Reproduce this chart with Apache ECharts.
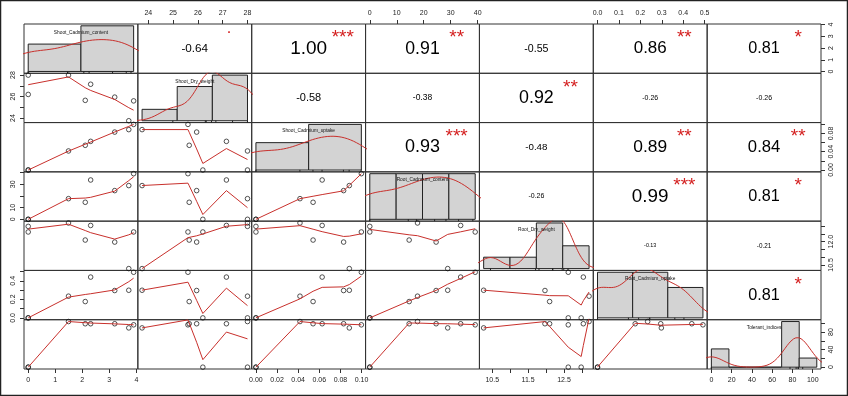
<!DOCTYPE html>
<html><head><meta charset="utf-8">
<script src="https://cdn.jsdelivr.net/npm/echarts@6/dist/echarts.min.js"></script>
<style>html,body{margin:0;padding:0;background:#fff}#c{width:848px;height:396px}</style>
</head><body><div id="c"></div>
<script>
// ---------------- data ----------------
const varNames = ['Shoot_Cadmium_content','Shoot_Dry_weight','Shoot_Cadmium_uptake','Root_Cadmium_content','Root_Dry_weight','Root_Cadmium_uptake','Tolerant_indices'];
const shootCdContent = [0, 0, 1.49, 2.11, 2.31, 3.20, 3.72, 3.90];
const shootDryWeight = [28.0, 26.2, 28.0, 25.65, 27.15, 25.95, 23.75, 25.6];
const shootCdUptake  = [0, 0, 0.0417, 0.0541, 0.0627, 0.0830, 0.0884, 0.0998];
const rootCdContent  = [0, 0, 17.7, 14.6, 33.7, 24.6, 28.9, 39.1];
const rootDryWeight  = [12.98, 12.62, 13.2, 12.1, 13.04, 11.97, 10.26, 12.62];
const rootCdUptake   = [0, 0, 0.234, 0.176, 0.44, 0.295, 0.298, 0.492];
const toleranceIdx   = [0, 0, 104, 99, 99, 99, 89.5, 96.5];

const histBreaks = [[0,2,4],[22,24,26,28],[0,0.05,0.1],[0,10,20,30,40],[10,11,12,13,14],[0,0.2,0.4,0.6],[0,20,40,60,80,100,120]];
const tickValues = [[0,1,2,3,4],[24,25,26,27,28],[0,0.02,0.04,0.06,0.08,0.1],[0,10,20,30,40],[10.5,11,11.5,12,12.5,13],[0,0.1,0.2,0.3,0.4,0.5],[0,20,40,60,80,100]];
const labelsHoriz = [[0,1,2,3,4],[24,25,26,27,28],[0,0.02,0.04,0.06,0.08,0.1],[0,10,20,30,40],[10.5,11.5,12.5],[0,0.1,0.2,0.3,0.4,0.5],[0,20,40,60,80,100]];
const labelsVert  = [[0,1,2,3,4],[24,26,28],[0,0.04,0.08],[0,10,30],[10.5,12],[0,0.2,0.4],[0,40,80]];
const labelDecimals = [0,0,2,0,1,1,0];
// upper triangle, row by row
const corrValues = [-0.64,1.00,0.91,-0.55,0.86,0.81, -0.58,-0.38,0.92,-0.26,-0.26, 0.93,-0.48,0.89,0.84, -0.26,0.99,0.81, -0.13,-0.21, 0.81];
const corrSignif = ['.','***','**','','**','*', '','','**','','', '***','','**','**', '','***','*', '','', '*'];

// ---------------- helpers ----------------
const vars = [shootCdContent, shootDryWeight, shootCdUptake, rootCdContent, rootDryWeight, rootCdUptake, toleranceIdx];
const N = vars.length;
const FONT = '"Liberation Sans", Arial, Helvetica, sans-serif';
const RED_LINE = '#c8302c', RED_STAR = '#d42020';
const L = 24, T = 24, R = 821, B = 369;
const PW = (R - L) / N, PH = (B - T) / N;
const usrRange = v => { const mn = Math.min(...v), mx = Math.max(...v), d = (mx - mn) * 0.04; return [mn - d, mx + d]; };

function lowess(xIn, yIn, f = 2/3, nsteps = 3) {
  const n = xIn.length;
  const idx = xIn.map((v, i) => i).sort((a, b) => (xIn[a] - xIn[b]) || (a - b));
  const x = [0].concat(idx.map(i => xIn[i]));
  const y = [0].concat(idx.map(i => yIn[i]));
  const ys = new Array(n + 1).fill(0), rw = new Array(n + 1).fill(1), res = new Array(n + 1).fill(0), w = new Array(n + 1).fill(0);
  const delta = 0.01 * (x[n] - x[1]);
  const ns = Math.max(2, Math.min(n, Math.floor(f * n + 1e-7)));
  function lowest(xs, nleft, nright, userw) {
    const range = x[n] - x[1];
    const h = Math.max(xs - x[nleft], x[nright] - xs);
    const h9 = 0.999 * h, h1 = 0.001 * h;
    let a = 0, j = nleft;
    while (j <= n) {
      w[j] = 0;
      const r = Math.abs(x[j] - xs);
      if (r <= h9) {
        if (r <= h1) w[j] = 1; else w[j] = Math.pow(1 - Math.pow(r / h, 3), 3);
        if (userw) w[j] *= rw[j];
        a += w[j];
      } else if (x[j] > xs) break;
      j++;
    }
    const nrt = j - 1;
    if (a <= 0) return null;
    for (j = nleft; j <= nrt; j++) w[j] /= a;
    if (h > 0) {
      a = 0;
      for (j = nleft; j <= nrt; j++) a += w[j] * x[j];
      let b = xs - a, c = 0;
      for (j = nleft; j <= nrt; j++) c += w[j] * (x[j] - a) * (x[j] - a);
      if (Math.sqrt(c) > 0.001 * range) {
        b /= c;
        for (j = nleft; j <= nrt; j++) w[j] *= (b * (x[j] - a) + 1);
      }
    }
    let s = 0;
    for (j = nleft; j <= nrt; j++) s += w[j] * y[j];
    return s;
  }
  let iter = 1;
  while (iter <= nsteps + 1) {
    let nleft = 1, nright = ns, last = 0, i = 1;
    for (;;) {
      if (nright < n) {
        const d1 = x[i] - x[nleft], d2 = x[nright + 1] - x[i];
        if (d1 > d2) { nleft++; nright++; continue; }
      }
      const v = lowest(x[i], nleft, nright, iter > 1);
      ys[i] = (v === null) ? y[i] : v;
      if (last < i - 1) {
        const denom = x[i] - x[last];
        for (let j = last + 1; j < i; j++) { const al = (x[j] - x[last]) / denom; ys[j] = al * ys[i] + (1 - al) * ys[last]; }
      }
      last = i;
      const cut = x[last] + delta;
      for (i = last + 1; i <= n; i++) {
        if (x[i] > cut) break;
        if (x[i] === x[last]) { ys[i] = ys[last]; last = i; }
      }
      i = Math.max(last + 1, i - 1);
      if (last >= n) break;
    }
    let sc = 0;
    for (let k = 1; k <= n; k++) { res[k] = y[k] - ys[k]; sc += Math.abs(res[k]); }
    sc /= n;
    if (iter > nsteps) break;
    const sorted = [];
    for (let k = 1; k <= n; k++) sorted.push(Math.abs(res[k]));
    sorted.sort((a, b) => a - b);
    const m1 = Math.floor(n / 2);
    const cmad = (n % 2 === 0) ? 3 * (sorted[m1] + sorted[n - m1 - 1]) : 6 * sorted[m1];
    if (cmad < 1e-7 * sc) break;
    const c9 = 0.999 * cmad, c1 = 0.001 * cmad;
    for (let k = 1; k <= n; k++) {
      const r = Math.abs(res[k]);
      rw[k] = r <= c1 ? 1 : (r <= c9 ? Math.pow(1 - Math.pow(r / cmad, 2), 2) : 0);
    }
    iter++;
  }
  const out = [];
  for (let k = 1; k <= n; k++) out.push([x[k], ys[k]]);
  return out;
}

function quantile7(sorted, p) { const h = (sorted.length - 1) * p, lo = Math.floor(h); return lo + 1 < sorted.length ? sorted[lo] + (h - lo) * (sorted[lo + 1] - sorted[lo]) : sorted[lo]; }
function bwNrd0(v) {
  const n = v.length, m = v.reduce((a, b) => a + b, 0) / n;
  const sd = Math.sqrt(v.reduce((a, b) => a + (b - m) * (b - m), 0) / (n - 1));
  const s = v.slice().sort((a, b) => a - b);
  const iqr = quantile7(s, 0.75) - quantile7(s, 0.25);
  let lo = Math.min(sd, iqr / 1.34);
  if (!lo) lo = sd || Math.abs(v[0]) || 1;
  return 0.9 * lo * Math.pow(n, -0.2);
}
function densityCurve(v) {
  const bw = bwNrd0(v), n = v.length;
  const from = Math.min(...v) - 3 * bw, to = Math.max(...v) + 3 * bw, m = 512;
  const pts = [];
  for (let k = 0; k < m; k++) {
    const xx = from + (to - from) * k / (m - 1);
    let s = 0;
    for (const d of v) { const z = (xx - d) / bw; s += Math.exp(-0.5 * z * z); }
    pts.push([xx, s / (n * bw * Math.sqrt(2 * Math.PI))]);
  }
  return pts;
}
function histCounts(v, br) {
  const c = new Array(br.length - 1).fill(0);
  for (const d of v) {
    for (let b = 0; b < br.length - 1; b++) {
      if ((d > br[b] || (b === 0 && d >= br[b])) && d <= br[b + 1]) { c[b]++; break; }
    }
  }
  return c;
}
const mctx = document.createElement('canvas').getContext('2d');
function emWidth(t) { mctx.font = '100px ' + FONT; return mctx.measureText(t).width / 100; }

// ---------------- build option ----------------
const grids = [], xAxes = [], yAxes = [], series = [];
function makeAxis(gridIndex, u, v, pos, shown, vertical, margin) {
  const ax = { type: 'value', gridIndex, min: u[0], max: u[1], position: pos, show: shown,
    axisLine: { show: false, onZero: false }, splitLine: { show: false }, splitArea: { show: false } };
  if (shown) {
    ax.axisTick = { show: true, customValues: tickValues[v], length: 4, lineStyle: { color: '#333', width: 1 } };
    ax.axisLabel = { show: true, customValues: vertical ? labelsVert[v] : labelsHoriz[v],
      formatter: val => Number(val).toFixed(labelDecimals[v]), fontSize: 7, color: '#222', fontFamily: FONT,
      margin, rotate: vertical ? 90 : 0, hideOverlap: false };
  } else {
    ax.axisTick = { show: false }; ax.axisLabel = { show: false };
  }
  return ax;
}
const textSeries = (xi, yi, pos, txt, size, color, offsetY) => ({
  type: 'scatter', xAxisIndex: xi, yAxisIndex: yi, data: [pos], symbol: 'circle', symbolSize: 1,
  itemStyle: { color: 'rgba(0,0,0,0)' }, silent: true, z: 5,
  label: { show: true, position: 'inside', formatter: txt, fontSize: size, color, fontFamily: FONT,
    align: 'center', verticalAlign: 'middle', offset: [0, offsetY || 0],
    textBorderWidth: 0, textBorderColor: 'rgba(0,0,0,0)', textShadowBlur: 0, opacity: 1 },
  emphasis: { disabled: true }
});

let ci = 0;
for (let i = 0; i < N; i++) {
  for (let j = 0; j < N; j++) {
    const k = grids.length;
    grids.push({ left: L + j * PW, top: T + i * PH, width: PW, height: PH, show: true,
      borderColor: '#333', borderWidth: 1, backgroundColor: 'rgba(0,0,0,0)', containLabel: false, outerBoundsMode: 'none' });
    const showTop = i === 0 && j % 2 === 1, showBottom = i === N - 1 && j % 2 === 0;
    const showLeft = j === 0 && i % 2 === 1, showRight = j === N - 1 && i % 2 === 0;
    xAxes.push(makeAxis(k, usrRange(vars[j]), j, showTop ? 'top' : 'bottom', showTop || showBottom, false, showTop ? 7 : 8));
    const xi = xAxes.length - 1;
    yAxes.push(makeAxis(k, usrRange(vars[i]), i, showRight ? 'right' : 'left', showLeft || showRight, true, 7));
    const yi = yAxes.length - 1;

    if (i > j) {
      series.push({ type: 'scatter', xAxisIndex: xi, yAxisIndex: yi, silent: true, z: 2,
        data: vars[j].map((xv, n) => [xv, vars[i][n]]), symbol: 'circle', symbolSize: 4.6,
        itemStyle: { color: 'rgba(0,0,0,0)', borderColor: '#111', borderWidth: 0.9 } });
      series.push({ type: 'line', xAxisIndex: xi, yAxisIndex: yi, silent: true, z: 3, clip: true,
        data: lowess(vars[j], vars[i]), symbol: 'none', showSymbol: false,
        lineStyle: { color: RED_LINE, width: 1 } });
    } else if (i === j) {
      const br = histBreaks[i], cnt = histCounts(vars[i], br), nObs = vars[i].length;
      const dens = cnt.map((c, b) => c / (nObs * (br[b + 1] - br[b])));
      const maxD = Math.max(...dens), xr = br[br.length - 1] - br[0];
      const hx = [br[0] - 0.04 * xr, br[br.length - 1] + 0.04 * xr], hy = [-0.04 * maxD, 1.04 * maxD];
      xAxes.push({ type: 'value', gridIndex: k, show: false, min: hx[0], max: hx[1], axisLine: { onZero: false } });
      const hxi = xAxes.length - 1;
      yAxes.push({ type: 'value', gridIndex: k, show: false, min: hy[0], max: hy[1], axisLine: { onZero: false } });
      const hyi = yAxes.length - 1;
      series.push({ type: 'custom', xAxisIndex: hxi, yAxisIndex: hyi, silent: true, z: 2,
        data: dens.map((d, b) => [br[b], br[b + 1], d]), encode: { x: [0, 1], y: 2 },
        renderItem: (params, api) => {
          const p0 = api.coord([api.value(0), 0]), p1 = api.coord([api.value(1), api.value(2)]);
          return { type: 'rect', shape: { x: p0[0], y: p1[1], width: p1[0] - p0[0], height: p0[1] - p1[1] },
            style: { fill: '#d3d3d3', stroke: '#222', lineWidth: 1 } };
        } });
      series.push({ type: 'line', xAxisIndex: hxi, yAxisIndex: hyi, silent: true, z: 3, clip: true,
        data: densityCurve(vars[i]), symbol: 'none', showSymbol: false, lineStyle: { color: RED_LINE, width: 1 } });
      series.push({ type: 'custom', xAxisIndex: hxi, yAxisIndex: hyi, silent: true, z: 3,
        data: vars[i].map(v => [v, hy[0]]), encode: { x: 0, y: 1 },
        renderItem: (params, api) => {
          const p = api.coord([api.value(0), api.value(1)]);
          return { type: 'line', shape: { x1: p[0], y1: p[1], x2: p[0], y2: p[1] - 2 }, style: { stroke: '#222', lineWidth: 1 } };
        } });
      series.push(textSeries(hxi, hyi, [(hx[0] + hx[1]) / 2, hy[0] + 0.8333 * (hy[1] - hy[0])], varNames[i], 4.8, '#111', 0));
    } else {
      xAxes.push({ type: 'value', gridIndex: k, show: false, min: 0, max: 1, axisLine: { onZero: false } });
      const axi = xAxes.length - 1;
      yAxes.push({ type: 'value', gridIndex: k, show: false, min: 0, max: 1, axisLine: { onZero: false } });
      const ayi = yAxes.length - 1;
      const r = corrValues[ci], sig = corrSignif[ci]; ci++;
      const txt = r.toFixed(2);
      const cex = 37 / emWidth(txt);
      series.push(textSeries(axi, ayi, [0.5, 0.5], txt, cex * (Math.abs(r) + 0.3) / 1.3, '#000', 0));
      if (sig) {
        const off = sig === '.' ? -0.3 * cex : 0.23 * cex;
        series.push(textSeries(axi, ayi, [0.8, 0.8], sig, cex, RED_STAR, off));
      }
    }
  }
}

const chart = echarts.init(document.getElementById('c'), null, { renderer: 'canvas' });
chart.setOption({
  animation: false, backgroundColor: '#fff',
  grid: grids, xAxis: xAxes, yAxis: yAxes, series,
  graphic: [{ type: 'rect', shape: { x: 0.5, y: 0.5, width: 847, height: 395 }, style: { fill: 'none', stroke: '#222', lineWidth: 1.5 }, silent: true }]
});
</script></body></html>
